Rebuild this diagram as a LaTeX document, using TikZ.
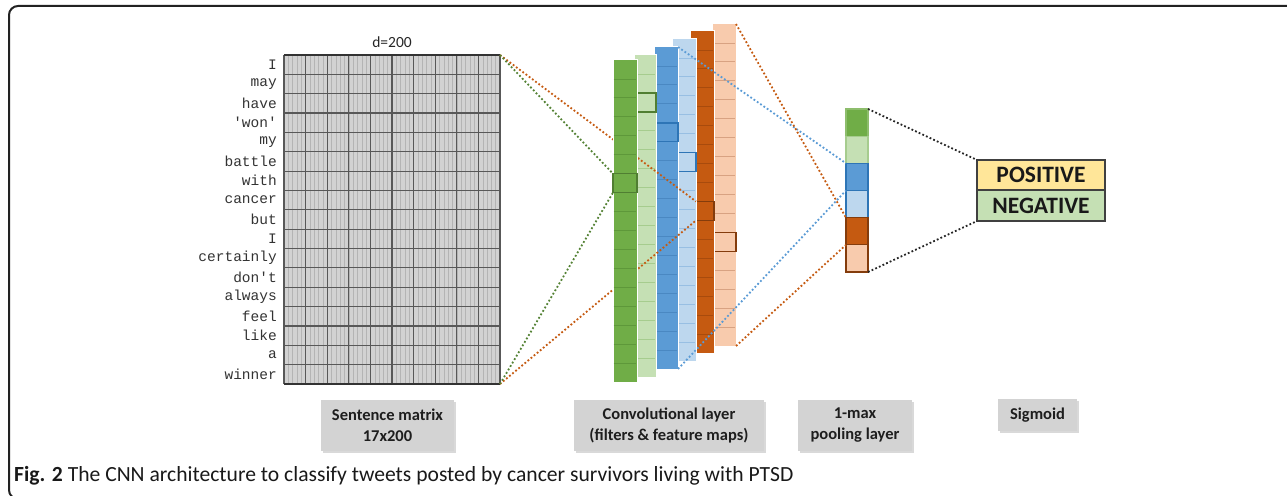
\documentclass[tikz,border=0pt]{standalone}
\usepackage{fontspec}
\setmainfont{Carlito}
\newfontfamily\wordfont{Liberation Mono}
\usetikzlibrary{shadows}
\definecolor{cframe}{HTML}{222222}
\definecolor{cmat}{HTML}{D2D2D2}
\definecolor{cminor}{HTML}{B4B4B4}
\definecolor{cmajor}{HTML}{585858}
\definecolor{cdg}{HTML}{70AD47}
\definecolor{cdgl}{HTML}{5E983A}
\definecolor{clg}{HTML}{C5E0B4}
\definecolor{clgl}{HTML}{A6CC8E}
\definecolor{cb}{HTML}{5B9BD5}
\definecolor{cbl}{HTML}{4A88C2}
\definecolor{clb}{HTML}{BDD7EE}
\definecolor{clbl}{HTML}{98BFE3}
\definecolor{cdo}{HTML}{C55A11}
\definecolor{cdol}{HTML}{A84B0D}
\definecolor{clo}{HTML}{F8CBAD}
\definecolor{clol}{HTML}{D8A282}
\definecolor{cghl}{HTML}{507E32}
\definecolor{cbhl}{HTML}{2E75B6}
\definecolor{cohl}{HTML}{843C0C}
\definecolor{cgreenline}{HTML}{548235}
\definecolor{corangeline}{HTML}{C55A11}
\definecolor{cblueline}{HTML}{5B9BD5}
\definecolor{cpos}{HTML}{FFE699}
\definecolor{cneg}{HTML}{C5E0B4}
\definecolor{clabel}{HTML}{D3D3D3}
\definecolor{ctext}{HTML}{1E1E1E}
\newcommand\fmap[9]{%
  \node[fmapbox, fill=c#5, minimum width=#4pt, anchor=north west] (#1) at (#2,#3) {};
  \foreach \k in {1,...,16}{\draw[line width=0.8pt, c#5l] ({#2+0.6},{#3+\k*18.94}) -- ++({#4-1.2},0);}
  \node[hlbox, draw=#8, minimum width={#2+#4-#9}, anchor=north west] (#1h) at (#9,{#3+#7*18.94}) {};
}
\begin{document}
\begin{tikzpicture}[x=1pt,y=-1pt,
  fmapbox/.style={draw=white, line width=1pt, minimum height=322pt, inner sep=0pt, outer sep=0pt},
  hlbox/.style={line width=1.5pt, minimum height=18.94pt, inner sep=0pt, outer sep=0pt},
  dotline/.style={line width=1.8pt, dash pattern=on 1.8pt off 2.2pt},
  minorline/.style={cminor, line width=0.4pt},
  majorline/.style={cmajor, line width=1.2pt},
  word/.style={anchor=east, inner sep=0pt, font=\wordfont\fontsize{14.5}{15}\selectfont, text=black!80},
  poolcell/.style={minimum width=22pt, minimum height=27.17pt, inner sep=0pt, outer sep=0pt, line width=1.2pt, anchor=north west},
  classbox/.style={draw=black!75, line width=1.3pt, minimum width=128pt, inner sep=0pt, outer sep=0pt, font=\fontsize{23.5}{24}\selectfont\bfseries, text=black!90},
  labelbox/.style={fill=clabel, inner sep=0pt, outer sep=0pt, align=center, text=ctext, font=\fontsize{16.5}{21}\selectfont\bfseries, drop shadow={shadow xshift=1.5pt, shadow yshift=-1.5pt, opacity=0.3, fill=black!50}},
]
\useasboundingbox (0,0) rectangle (1287,495);
% frame
\draw[line width=2pt, cframe, rounded corners=9pt] (1300,6) -- (9,6) -- (9,499) -- (60,499);
% sentence matrix
\node[anchor=north west, minimum width=216pt, minimum height=329pt, inner sep=0pt, outer sep=0pt, fill=cmat] (mat) at (284,55) {};
\foreach \c in {1,...,49}{\draw[minorline] ({284+\c*4.32},55) -- ++(0,329);}
\foreach \c in {1,...,9}{\draw[majorline] ({284+\c*21.6},55) -- ++(0,329);}
\foreach \r in {1,...,16}{\draw[majorline] (284,{55+\r*19.353}) -- ++(216,0);}
\draw[majorline] (mat.north west) -- (mat.south west);
\draw[majorline] (mat.north east) -- (mat.south east);
\draw[line width=2pt, black!80] (mat.north west) -- (mat.north east);
\draw[line width=2pt, black!80] (mat.south west) -- (mat.south east);
\node[font=\fontsize{15.5}{16}\selectfont, text=black!85] (dlab) at (392,42) {d=200};
\foreach \w [count=\i] in {I,may,have,\textquotesingle won\textquotesingle,my,battle,with,cancer,but,I,certainly,don\textquotesingle t,always,feel,like,a,winner}{
  \node[word] (w\i) at (277,{55+(\i-0.5)*19.353}) {\w};
}
% feature maps (drawn back to front)
\fmap{lo}{712}{24}{24}{lo}{}{11}{cohl}{714}
\fmap{do}{690}{31}{24}{do}{}{9}{cohl}{696}
\fmap{lb}{672}{39}{24}{lb}{}{6}{cbhl}{678}
\fmap{b}{654}{47}{24}{b}{}{4}{cbhl}{656}
\fmap{lg}{634}{55}{22}{lg}{}{2}{cghl}{637}
\draw[dotline, corangeline] (mat.north east) -- (doh.north west);
\draw[dotline, corangeline] (mat.south east) -- (doh.south west);
\fmap{dg}{613}{60}{24}{dg}{}{6}{cghl}{613}
\draw[dotline, cgreenline] (mat.north east) -- (dgh.north west);
\draw[dotline, cgreenline] (mat.south east) -- (dgh.south west);
% pooling layer
\node[poolcell, fill=cdg, draw=cdg!80!white] (pG) at (846,109) {};
\node[poolcell, fill=clg, draw=clgl] (pLG) at (846,136.17) {};
\node[poolcell, fill=cb, draw=cbhl] (pB) at (846,163.33) {};
\node[poolcell, fill=clb, draw=cbhl] (pLB) at (846,190.5) {};
\node[poolcell, fill=cdo, draw=cohl] (pDO) at (846,217.67) {};
\node[poolcell, fill=clo, draw=cohl] (pLO) at (846,244.83) {};
\draw[dotline, cblueline] (b.north east) -- (pB.north west);
\draw[dotline, cblueline] (b.south east) -- (pB.south west);
\draw[dotline, corangeline] (lo.north east) -- (pDO.north west);
\draw[dotline, corangeline] (lo.south east) -- (pDO.south west);
% output classes
\node[classbox, fill=cpos, minimum height=30pt] (pos) at (1041,175) {POSITIVE};
\node[classbox, fill=cneg, minimum height=31pt] (neg) at (1041,205.5) {NEGATIVE};
\draw[dotline, black!85] (pG.north east) -- (pos.north west);
\draw[dotline, black!85] (pLO.south east) -- (neg.south west);
% labels
\node[labelbox, minimum width=133pt, minimum height=51pt] (lsent) at (387.5,425.5) {Sentence matrix\\17x200};
\node[labelbox, minimum width=190pt, minimum height=51pt] (lconv) at (669,425.5) {Convolutional layer\\(filters \& feature maps)};
\node[labelbox, minimum width=114pt, minimum height=51pt] (lpool) at (855,425.5) {1-max\\pooling layer};
\node[labelbox, minimum width=79pt, minimum height=32pt] (lsig) at (1037.5,415) {Sigmoid};
% caption
\node[anchor=west, inner sep=0pt, font=\fontsize{21.6}{23}\selectfont, text=black!90] (cap) at (14,476) {\textbf{Fig. 2} The CNN architecture to classify tweets posted by cancer survivors living with PTSD};
\end{tikzpicture}
\end{document}
